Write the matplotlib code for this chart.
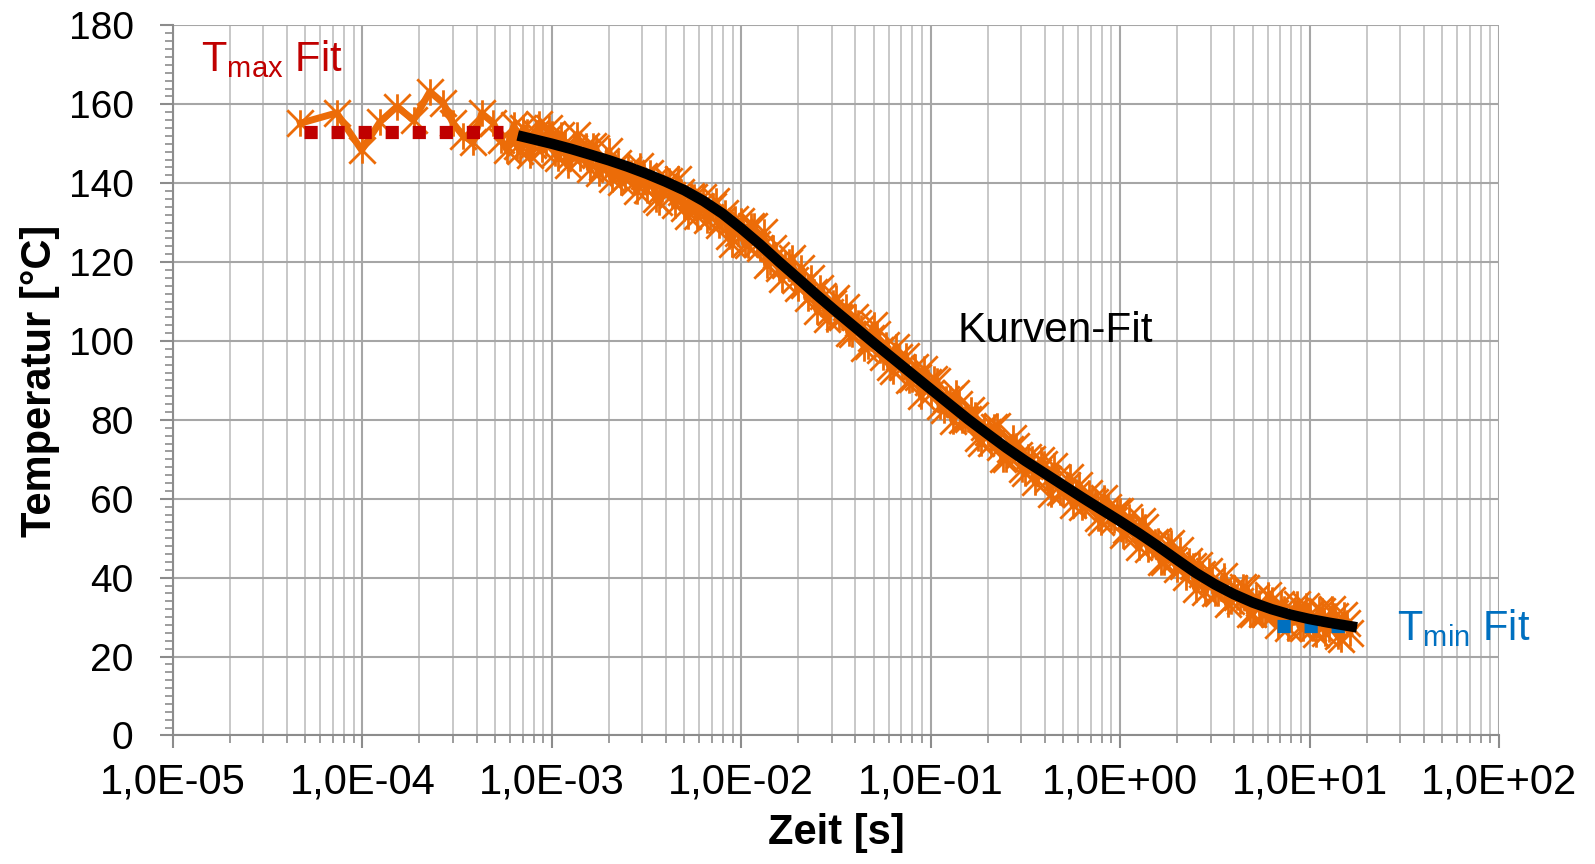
import matplotlib
matplotlib.use('Agg')
import matplotlib.pyplot as plt
from matplotlib.path import Path
from matplotlib.ticker import FixedLocator, LogLocator, MultipleLocator, NullFormatter

plt.rcParams['font.family'] = ['Liberation Sans', 'DejaVu Sans']
plt.rcParams['mathtext.fontset'] = 'custom'
plt.rcParams['mathtext.rm'] = 'Liberation Sans'
plt.rcParams['mathtext.it'] = 'Liberation Sans'

# Messung: Zeit [s] / Temperatur [°C]
zeit = [4.7e-5, 7.3e-5, 9.9e-5, 1.24e-4, 1.52e-4, 1.86e-4, 2.27e-4, 2.67e-4, 3.0e-4, 3.4e-4,
        3.84e-4, 4.26e-4, 4.9e-4, 5.4e-4, 5.8e-4,
        6.31e-4, 6.56e-4, 6.81e-4, 7.08e-4, 7.36e-4, 7.65e-4, 7.94e-4, 8.25e-4, 8.58e-4, 8.91e-4,
        9.26e-4, 9.62e-4,
        1.00e-3, 1.04e-3, 1.08e-3, 1.12e-3, 1.17e-3, 1.21e-3, 1.26e-3, 1.31e-3, 1.36e-3, 1.41e-3,
        1.47e-3, 1.52e-3, 1.58e-3, 1.64e-3, 1.71e-3, 1.78e-3, 1.85e-3, 1.92e-3, 2.00e-3, 2.07e-3,
        2.15e-3, 2.24e-3, 2.32e-3, 2.42e-3, 2.51e-3, 2.61e-3, 2.71e-3, 2.82e-3, 2.93e-3, 3.05e-3,
        3.16e-3, 3.28e-3, 3.41e-3, 3.55e-3, 3.69e-3, 3.83e-3, 3.98e-3, 4.14e-3, 4.30e-3, 4.47e-3,
        4.64e-3, 4.82e-3, 5.01e-3, 5.21e-3, 5.41e-3, 5.62e-3, 5.84e-3, 6.07e-3, 6.31e-3, 6.56e-3,
        6.81e-3, 7.08e-3, 7.36e-3, 7.65e-3, 7.94e-3, 8.25e-3, 8.58e-3, 8.91e-3, 9.26e-3, 9.62e-3,
        1.00e-2, 1.04e-2, 1.08e-2, 1.12e-2, 1.17e-2, 1.21e-2, 1.26e-2, 1.31e-2, 1.36e-2, 1.41e-2,
        1.47e-2, 1.52e-2, 1.58e-2, 1.64e-2, 1.71e-2, 1.78e-2, 1.85e-2, 1.92e-2, 2.00e-2, 2.07e-2,
        2.15e-2, 2.24e-2, 2.32e-2, 2.42e-2, 2.51e-2, 2.61e-2, 2.71e-2, 2.82e-2, 2.93e-2, 3.05e-2,
        3.16e-2, 3.28e-2, 3.41e-2, 3.55e-2, 3.69e-2, 3.83e-2, 3.98e-2, 4.14e-2, 4.30e-2, 4.47e-2,
        4.64e-2, 4.82e-2, 5.01e-2, 5.21e-2, 5.41e-2, 5.62e-2, 5.84e-2, 6.07e-2, 6.31e-2, 6.56e-2,
        6.81e-2, 7.08e-2, 7.36e-2, 7.65e-2, 7.94e-2, 8.25e-2, 8.58e-2, 8.91e-2, 9.26e-2, 9.62e-2,
        1.00e-1, 1.04e-1, 1.08e-1, 1.12e-1, 1.17e-1, 1.21e-1, 1.26e-1, 1.31e-1, 1.36e-1, 1.41e-1,
        1.47e-1, 1.52e-1, 1.58e-1, 1.64e-1, 1.71e-1, 1.78e-1, 1.85e-1, 1.92e-1, 2.00e-1, 2.07e-1,
        2.15e-1, 2.24e-1, 2.32e-1, 2.42e-1, 2.51e-1, 2.61e-1, 2.71e-1, 2.82e-1, 2.93e-1, 3.05e-1,
        3.16e-1, 3.28e-1, 3.41e-1, 3.55e-1, 3.69e-1, 3.83e-1, 3.98e-1, 4.14e-1, 4.30e-1, 4.47e-1,
        4.64e-1, 4.82e-1, 5.01e-1, 5.21e-1, 5.41e-1, 5.62e-1, 5.84e-1, 6.07e-1, 6.31e-1, 6.56e-1,
        6.81e-1, 7.08e-1, 7.36e-1, 7.65e-1, 7.94e-1, 8.25e-1, 8.58e-1, 8.91e-1, 9.26e-1, 9.62e-1,
        1.00, 1.04, 1.08, 1.12, 1.17, 1.21, 1.26, 1.31, 1.36, 1.41,
        1.47, 1.52, 1.58, 1.64, 1.71, 1.78, 1.85, 1.92, 2.00, 2.07,
        2.15, 2.24, 2.32, 2.42, 2.51, 2.61, 2.71, 2.82, 2.93, 3.05,
        3.16, 3.28, 3.41, 3.55, 3.69, 3.83, 3.98, 4.14, 4.30, 4.47,
        4.64, 4.82, 5.01, 5.21, 5.41, 5.62, 5.84, 6.07, 6.31, 6.56,
        6.81, 7.08, 7.36, 7.65, 7.94, 8.25, 8.58, 8.91, 9.26, 9.62,
        10.0, 10.4, 10.8, 11.2, 11.7, 12.1, 12.6, 13.1, 13.6, 14.1,
        14.7, 15.2, 15.8, 16.3]
temp = [155.2, 157.8, 148.4, 155.6, 159.4, 156.0, 163.2, 160.3, 155.3, 152.0,
        150.5, 157.7, 155.3, 151.0, 148.4,
        154.8, 149.5, 148.1, 153.9, 153.0, 147.2, 149.6, 152.6, 155.1, 148.7,
        150.2, 154.0,
        152.4, 147.6, 146.5, 152.3, 150.2, 144.6, 147.1, 149.0, 152.2, 146.3,
        147.5, 149.4, 143.5, 149.4, 148.8, 142.6, 144.2, 145.7, 148.2, 141.0,
        144.0, 145.1, 140.2, 141.2, 143.7, 142.6, 140.3, 137.9, 144.4, 141.7,
        138.3, 142.6, 140.4, 135.9, 135.2, 138.5, 141.0, 140.6, 137.0, 134.5,
        141.0, 137.8, 133.6, 131.6, 136.7, 136.4, 131.6, 134.1, 136.5, 130.6,
        131.4, 134.3, 135.4, 129.3, 130.7, 132.5, 126.5, 124.7, 131.0, 127.4,
        130.3, 124.7, 124.3, 129.2, 129.1, 124.6, 123.5, 127.5, 119.2, 120.1,
        123.6, 121.8, 118.5, 115.8, 119.2, 120.1, 121.1, 115.5, 113.4, 118.5,
        114.3, 110.9, 116.0, 112.5, 107.7, 113.5, 111.5, 105.6, 107.3, 109.5,
        111.0, 106.1, 106.1, 108.7, 102.1, 101.7, 106.1, 104.6, 103.2, 98.1,
        98.8, 100.8, 104.0, 101.7, 97.8, 95.9, 99.1, 93.3, 92.4, 98.5,
        96.0, 93.3, 96.3, 90.1, 90.4, 93.5, 90.9, 86.0, 92.8, 89.6,
        86.7, 90.4, 89.8, 83.5, 82.6, 85.4, 85.2, 79.7, 86.7, 83.9,
        79.9, 80.2, 80.2, 82.5, 81.2, 75.3, 74.1, 78.2, 76.9, 74.1,
        78.3, 78.5, 73.0, 70.2, 70.2, 72.6, 75.5, 73.4, 71.2, 67.5,
        66.6, 70.6, 70.1, 64.3, 66.8, 69.7, 68.7, 65.1, 61.2, 68.3,
        65.4, 61.8, 61.8, 63.4, 65.6, 58.5, 61.3, 63.6, 58.0, 58.4,
        61.4, 59.8, 59.3, 55.1, 54.0, 60.3, 57.9, 55.4, 54.7, 56.8,
        57.0, 50.8, 52.1, 55.3, 52.7, 50.6, 47.7, 54.4, 52.9, 47.3,
        48.2, 49.0, 49.3, 44.0, 44.0, 48.1, 48.9, 44.6, 42.3, 47.1,
        42.9, 40.1, 44.2, 43.0, 37.1, 43.1, 41.0, 36.3, 41.8, 39.5,
        36.1, 36.1, 37.5, 40.4, 33.2, 34.0, 37.3, 35.0, 34.0, 37.6,
        37.4, 30.9, 30.9, 35.0, 33.6, 30.8, 30.7, 35.5, 34.3, 31.0,
        27.9, 33.4, 32.0, 27.2, 29.8, 31.3, 33.4, 27.6, 27.3, 32.7,
        30.9, 27.2, 25.8, 31.8, 31.5, 26.0, 27.1, 32.0, 30.3, 25.3,
        24.4, 30.6, 28.5, 25.9]

# Kurven-Fit
fit_zeit = [6.6e-4, 7.9e-4,
            1.0e-3, 1.26e-3, 1.58e-3, 2.0e-3, 2.51e-3, 3.16e-3, 3.98e-3, 5.01e-3, 6.31e-3, 7.94e-3,
            1.0e-2, 1.26e-2, 1.58e-2, 2.0e-2, 2.51e-2, 3.16e-2, 3.98e-2, 5.01e-2, 6.31e-2, 7.94e-2,
            1.0e-1, 1.26e-1, 1.58e-1, 2.0e-1, 2.51e-1, 3.16e-1, 3.98e-1, 5.01e-1, 6.31e-1, 7.94e-1,
            1.0, 1.26, 1.58, 2.0, 2.51, 3.16, 3.98, 5.01, 6.31, 7.94,
            10.0, 12.6, 17.8]
fit_temp = [152.1, 151.2,
            150.0, 148.7, 147.3, 145.8, 144.2, 142.4, 140.4, 138.2, 135.5, 132.3,
            128.5, 124.4, 120.1, 115.8, 111.6, 107.5, 103.5, 99.5, 95.6, 91.7,
            87.8, 83.9, 80.1, 76.4, 72.9, 69.6, 66.5, 63.4, 60.3, 57.3,
            54.3, 51.2, 48.0, 44.5, 41.2, 38.3, 35.8, 33.7, 32.0, 30.6,
            29.5, 28.6, 27.4]

# Tmax / Tmin Fit
tmax_zeit = [4.9e-5, 5.5e-4]
tmax_temp = [153.1, 153.1]
tmin_zeit = [6.7, 17.7]
tmin_temp = [27.8, 27.8]

x_ticks = [1e-5, 1e-4, 1e-3, 1e-2, 1e-1, 1e0, 1e1, 1e2]
x_labels = ['1,0E-05', '1,0E-04', '1,0E-03', '1,0E-02', '1,0E-01', '1,0E+00', '1,0E+01', '1,0E+02']

orange = '#EC6C08'
grau = '#8C8C8C'

# Excel-Stern: x mit senkrechtem Strich
stern = Path([(-1, -1), (1, 1), (-1, 1), (1, -1), (0, -1), (0, 1)],
             [Path.MOVETO, Path.LINETO] * 3)

fig = plt.figure(figsize=(15.95, 8.64), dpi=100)
ax = fig.add_axes([0.1085, 0.1488, 0.8313, 0.8218])

ax.plot(zeit, temp, color=orange, lw=5, marker=stern, ms=19, mfc='none',
        mec=orange, mew=2.0, zorder=3)
ax.plot(tmax_zeit, tmax_temp, color='#C00000', lw=9.5, linestyle=(0, (1, 1.05)),
        dash_capstyle='butt', zorder=4)
ax.plot(tmin_zeit, tmin_temp, color='#0070C0', lw=9.5, linestyle=(0, (1, 1.05)),
        dash_capstyle='butt', zorder=4)
ax.plot(fit_zeit, fit_temp, color='black', lw=7.6, solid_capstyle='butt',
        solid_joinstyle='round', zorder=5)

ax.set_xscale('log')
ax.set_xlim(1e-5, 1e2)
ax.set_ylim(0, 180)
ax.xaxis.set_major_locator(FixedLocator(x_ticks))
ax.set_xticklabels(x_labels)
ax.xaxis.set_minor_locator(LogLocator(base=10, subs=range(2, 10), numticks=100))
ax.xaxis.set_minor_formatter(NullFormatter())
ax.yaxis.set_major_locator(MultipleLocator(20))
ax.yaxis.set_minor_locator(MultipleLocator(2))

ax.grid(which='major', axis='both', color='#A6A6A6', lw=1.5)
ax.grid(which='minor', axis='x', color='#C4C4C4', lw=1.3)
ax.set_axisbelow(True)

for s in ['top', 'right']:
    ax.spines[s].set_visible(False)
for s in ['left', 'bottom']:
    ax.spines[s].set_color(grau)
    ax.spines[s].set_linewidth(1.5)

ax.tick_params(which='major', direction='out', length=9.4, width=1.5, color=grau)
ax.tick_params(which='minor', direction='out', length=5.8, width=1.2, color=grau)
ax.tick_params(axis='x', which='major', labelsize=30, pad=10)
ax.tick_params(axis='y', which='major', labelsize=28, pad=19)

ax.set_xlabel('Zeit [s]', fontsize=30, fontweight='bold', labelpad=8)
ax.set_ylabel('Temperatur [°C]', fontsize=30, fontweight='bold', labelpad=6)

ax.text(1.41e-5, 168.5, r'T$_{\mathregular{max}}$ Fit', color='#C00000', fontsize=30, va='baseline')
ax.text(0.139, 99.8, 'Kurven-Fit', color='black', fontsize=30.5, va='baseline')
ax.text(28.8, 24.2, r'T$_{\mathregular{min}}$ Fit', color='#0070C0', fontsize=30, va='baseline')

fig.savefig('out.png', dpi=100)
